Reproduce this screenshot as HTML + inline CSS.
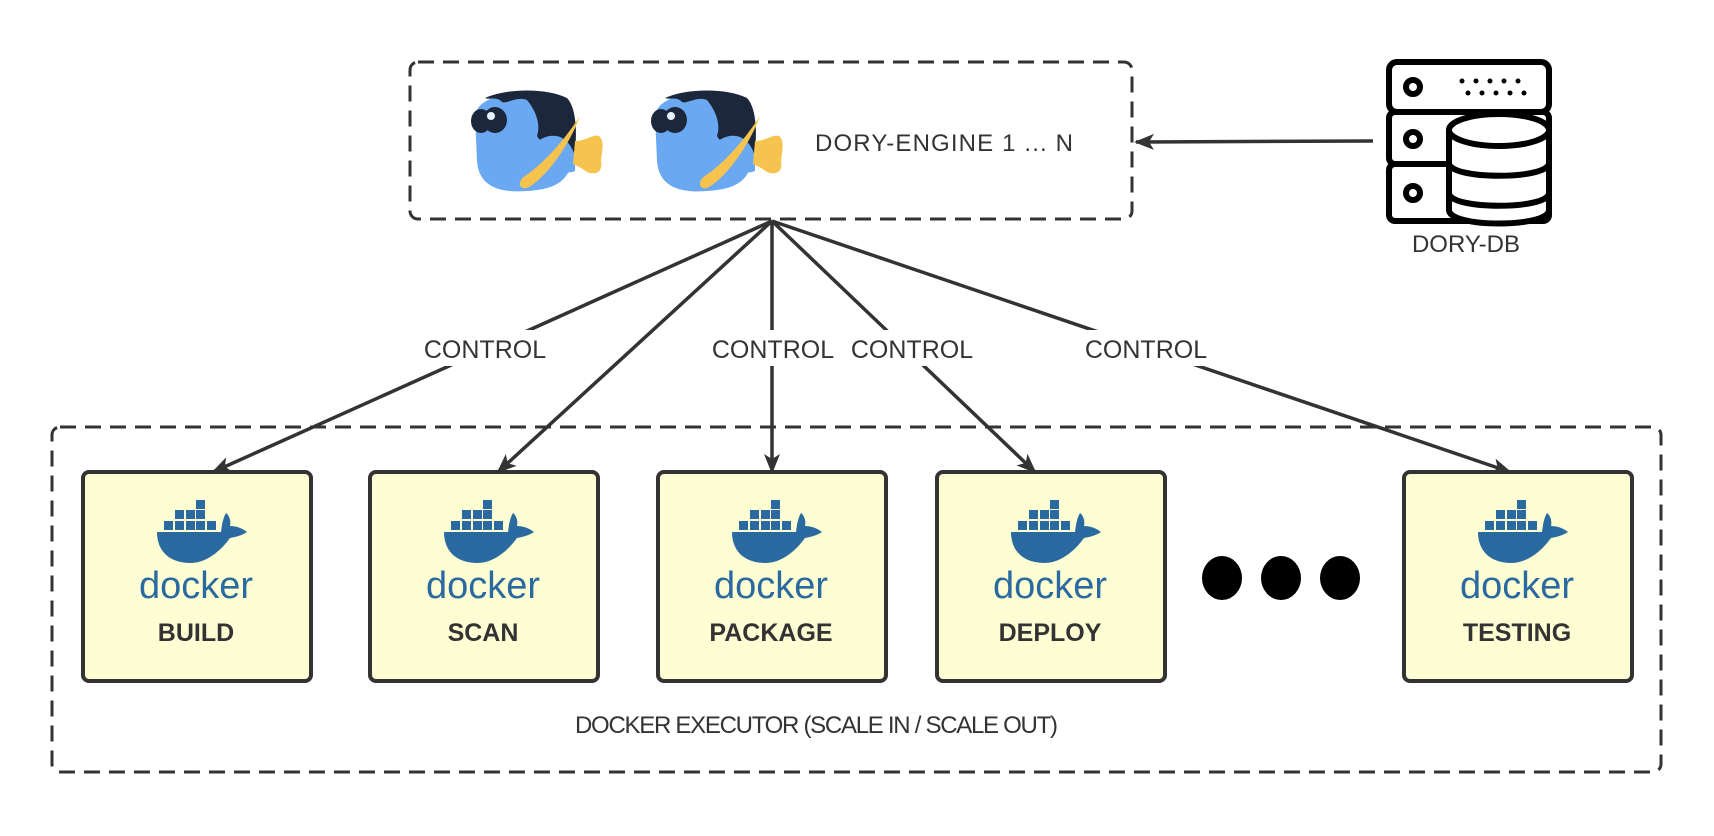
<!DOCTYPE html>
<html><head><meta charset="utf-8"><style>
html,body{margin:0;padding:0;background:#fff;}
svg{display:block;font-family:"Liberation Sans",sans-serif;}
</style></head><body>
<svg width="1714" height="836" viewBox="0 0 1714 836" xmlns="http://www.w3.org/2000/svg">
<defs>
<marker id="ah" viewBox="0 0 20 20" refX="18" refY="10" markerWidth="20" markerHeight="20" markerUnits="userSpaceOnUse" orient="auto">
<path d="M0,2 L20,10 L0,18 L5,10 Z" fill="#333"/>
</marker>
<g id="fish">
<path d="M8,30 C10,12 40,5 70,7 C100,9 110,25 108,55 C106,85 100,100 70,104 C40,108 12,105 10,75 Z" fill="#6aa8f2"/>
<path d="M18,12 C40,2 80,2 100,12 C112,25 110,60 105,85 C98,70 75,60 70,50 C75,35 65,20 60,14 C50,10 40,18 35,16 C30,10 22,14 18,12 Z" fill="#1c273b"/>
<path d="M65,60 C80,45 100,45 108,70 L108,85 C95,90 80,85 65,60 Z" fill="#6aa8f2"/>
<ellipse cx="14" cy="35" rx="10" ry="12" fill="#1c273b"/>
<ellipse cx="28" cy="34" rx="12" ry="13" fill="#1c273b"/>
<circle cx="24" cy="30" r="4" fill="#e6f4ff"/>
<path d="M113,30 C100,50 80,75 58,90 C50,95 52,104 60,102 C75,95 100,65 113,30 Z" fill="#f6c44e"/>
<path d="M108,55 C120,55 125,48 132,50 C138,55 135,65 134,75 C136,85 130,90 120,86 C115,82 110,80 106,78 Z" fill="#f6c44e"/>
</g>
<g id="whale" fill="#2b6aa0">
<rect x="-1" y="500" width="9" height="9"/>
<rect x="-22" y="510" width="9" height="9"/><rect x="-11" y="510" width="9" height="9"/><rect x="-1" y="510" width="9" height="9"/>
<rect x="-33" y="521" width="9" height="9"/><rect x="-22" y="521" width="9" height="9"/><rect x="-11" y="521" width="9" height="9"/><rect x="-1" y="521" width="9" height="9"/><rect x="10" y="521" width="9" height="9"/>
<path d="M-40,532 L24,532 C25,524 26,518 29,513 C33,516 34,522 33,526 C39,526 45,528 50,532 C44,536 38,537 33,538 C20,556 5,563 -6,563 C-30,563 -40,549 -40,532 Z"/>
</g>
</defs>

<rect x="410" y="62" width="722" height="157" rx="8" fill="none" stroke="#333" stroke-width="3" stroke-dasharray="16 9"/>
<use href="#fish" transform="translate(467,86) scale(1.0,1.0)"/>
<use href="#fish" transform="translate(647,86) scale(1.0,1.0)"/>
<text x="815" y="151" font-size="24" fill="#333" textLength="258">DORY-ENGINE 1 ... N</text>

<g fill="none" stroke="#000" stroke-width="6" stroke-linejoin="round">
<rect x="1389" y="62" width="160" height="50" rx="8" fill="#fff"/>
<rect x="1389" y="112" width="160" height="52" rx="6" fill="#fff"/>
<rect x="1389" y="164" width="160" height="57" rx="6" fill="#fff"/>
<circle cx="1413" cy="87" r="7"/><circle cx="1413" cy="139" r="7"/><circle cx="1413" cy="193" r="7"/>
<path d="M1449,130 L1449,210 C1449,228 1549,228 1549,210 L1549,130" fill="#fff"/>
<ellipse cx="1499" cy="130" rx="50" ry="16" fill="#fff"/>
<path d="M1449,163 C1449,180 1549,180 1549,163"/>
<path d="M1449,193 C1449,210 1549,210 1549,193"/>
</g>
<g fill="#000">
<circle cx="1462" cy="81" r="2.5"/><circle cx="1476" cy="81" r="2.5"/><circle cx="1490" cy="81" r="2.5"/><circle cx="1504" cy="81" r="2.5"/><circle cx="1518" cy="81" r="2.5"/>
<circle cx="1468" cy="93" r="2.5"/><circle cx="1482" cy="93" r="2.5"/><circle cx="1496" cy="93" r="2.5"/><circle cx="1510" cy="93" r="2.5"/><circle cx="1524" cy="93" r="2.5"/>
</g>
<text x="1466" y="252" font-size="24" fill="#333" text-anchor="middle">DORY-DB</text>
<line x1="1373" y1="141" x2="1136" y2="142" stroke="#333" stroke-width="3.5" marker-end="url(#ah)"/>

<rect x="52" y="427" width="1609" height="345" rx="8" fill="none" stroke="#333" stroke-width="3" stroke-dasharray="16 9"/>

<g stroke="#333" stroke-width="3.5" fill="none" marker-end="url(#ah)">
<line x1="772" y1="221" x2="213" y2="472"/>
<line x1="772" y1="221" x2="498" y2="472"/>
<line x1="772" y1="221" x2="772" y2="472"/>
<line x1="772" y1="221" x2="1035" y2="472"/>
<line x1="772" y1="221" x2="1510" y2="472"/>
</g>
<g fill="#fff">
<rect x="420" y="330" width="130" height="36"/>
<rect x="709" y="330" width="128" height="36"/>
<rect x="847" y="330" width="132" height="36"/>
<rect x="1080" y="330" width="132" height="36"/>
</g>
<g font-size="25" fill="#333" text-anchor="middle">
<text x="485" y="358">CONTROL</text>
<text x="773" y="358">CONTROL</text>
<text x="912" y="358">CONTROL</text>
<text x="1146" y="358">CONTROL</text>
</g>

<g fill="#fefed4" stroke="#333" stroke-width="4">
<rect x="83" y="472" width="228" height="209" rx="6"/>
<rect x="370" y="472" width="228" height="209" rx="6"/>
<rect x="658" y="472" width="228" height="209" rx="6"/>
<rect x="937" y="472" width="228" height="209" rx="6"/>
<rect x="1404" y="472" width="228" height="209" rx="6"/>
</g>
<use href="#whale" transform="translate(197,0)"/>
<use href="#whale" transform="translate(484,0)"/>
<use href="#whale" transform="translate(772,0)"/>
<use href="#whale" transform="translate(1051,0)"/>
<use href="#whale" transform="translate(1518,0)"/>
<g font-size="38" fill="#2b6aa0" text-anchor="middle">
<text x="196" y="598">docker</text>
<text x="483" y="598">docker</text>
<text x="771" y="598">docker</text>
<text x="1050" y="598">docker</text>
<text x="1517" y="598">docker</text>
</g>
<g font-size="25" font-weight="bold" fill="#333" text-anchor="middle">
<text x="196" y="641">BUILD</text>
<text x="483" y="641">SCAN</text>
<text x="771" y="641">PACKAGE</text>
<text x="1050" y="641">DEPLOY</text>
<text x="1517" y="641">TESTING</text>
</g>
<g fill="#000">
<ellipse cx="1222" cy="578" rx="20" ry="22"/>
<ellipse cx="1281" cy="578" rx="20" ry="22"/>
<ellipse cx="1340" cy="578" rx="20" ry="22"/>
</g>
<text x="575" y="733" font-size="24" fill="#333" textLength="483" lengthAdjust="spacing">DOCKER EXECUTOR (SCALE IN / SCALE OUT)</text>
</svg>
</body></html>
